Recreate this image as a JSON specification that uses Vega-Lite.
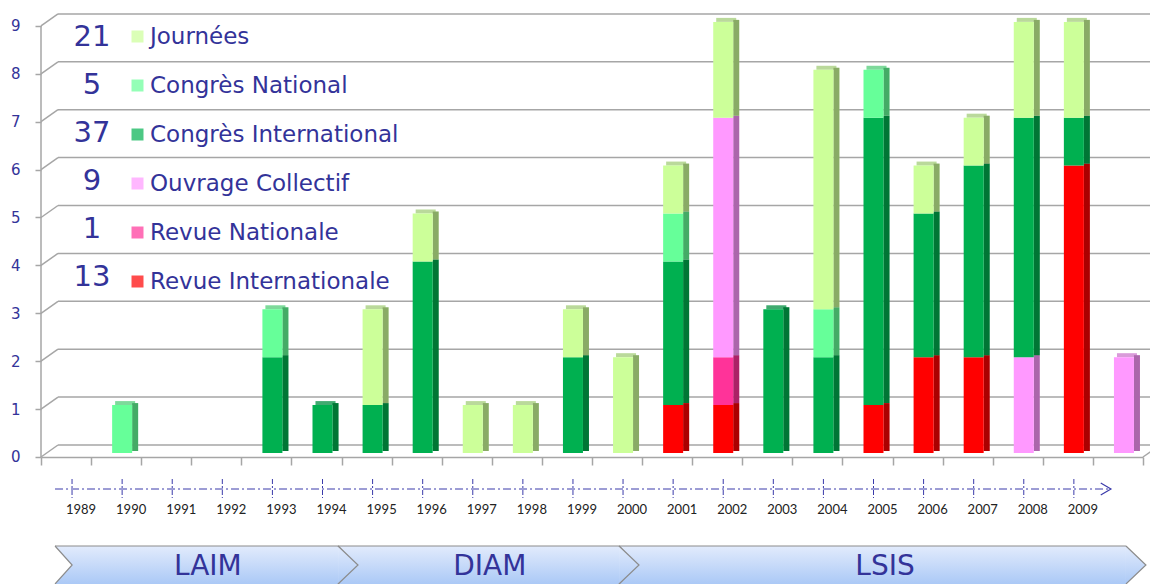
{
  "$schema": "https://vega.github.io/schema/vega-lite/v6.json",
  "width": 1102,
  "height": 584,
  "autosize": "none",
  "padding": {"left": 41, "top": 0, "right": 7, "bottom": 0},
  "background": "white",
  "config": {"view": {"stroke": null}, "font": "DejaVu Sans", "scale": {"continuousPadding": 0}},
  "datasets": {
    "pubs": [
      {"year": 1990, "type": "Congrès National", "n": 1, "rank": 5},
      {"year": 1993, "type": "Congrès International", "n": 2, "rank": 4},
      {"year": 1993, "type": "Congrès National", "n": 1, "rank": 5},
      {"year": 1994, "type": "Congrès International", "n": 1, "rank": 4},
      {"year": 1995, "type": "Congrès International", "n": 1, "rank": 4},
      {"year": 1995, "type": "Journées", "n": 2, "rank": 6},
      {"year": 1996, "type": "Congrès International", "n": 4, "rank": 4},
      {"year": 1996, "type": "Journées", "n": 1, "rank": 6},
      {"year": 1997, "type": "Journées", "n": 1, "rank": 6},
      {"year": 1998, "type": "Journées", "n": 1, "rank": 6},
      {"year": 1999, "type": "Congrès International", "n": 2, "rank": 4},
      {"year": 1999, "type": "Journées", "n": 1, "rank": 6},
      {"year": 2000, "type": "Journées", "n": 2, "rank": 6},
      {"year": 2001, "type": "Revue Internationale", "n": 1, "rank": 1},
      {"year": 2001, "type": "Congrès International", "n": 3, "rank": 4},
      {"year": 2001, "type": "Congrès National", "n": 1, "rank": 5},
      {"year": 2001, "type": "Journées", "n": 1, "rank": 6},
      {"year": 2002, "type": "Revue Internationale", "n": 1, "rank": 1},
      {"year": 2002, "type": "Revue Nationale", "n": 1, "rank": 2},
      {"year": 2002, "type": "Ouvrage Collectif", "n": 5, "rank": 3},
      {"year": 2002, "type": "Journées", "n": 2, "rank": 6},
      {"year": 2003, "type": "Congrès International", "n": 3, "rank": 4},
      {"year": 2004, "type": "Congrès International", "n": 2, "rank": 4},
      {"year": 2004, "type": "Congrès National", "n": 1, "rank": 5},
      {"year": 2004, "type": "Journées", "n": 5, "rank": 6},
      {"year": 2005, "type": "Revue Internationale", "n": 1, "rank": 1},
      {"year": 2005, "type": "Congrès International", "n": 6, "rank": 4},
      {"year": 2005, "type": "Congrès National", "n": 1, "rank": 5},
      {"year": 2006, "type": "Revue Internationale", "n": 2, "rank": 1},
      {"year": 2006, "type": "Congrès International", "n": 3, "rank": 4},
      {"year": 2006, "type": "Journées", "n": 1, "rank": 6},
      {"year": 2007, "type": "Revue Internationale", "n": 2, "rank": 1},
      {"year": 2007, "type": "Congrès International", "n": 4, "rank": 4},
      {"year": 2007, "type": "Journées", "n": 1, "rank": 6},
      {"year": 2008, "type": "Ouvrage Collectif", "n": 2, "rank": 3},
      {"year": 2008, "type": "Congrès International", "n": 5, "rank": 4},
      {"year": 2008, "type": "Journées", "n": 2, "rank": 6},
      {"year": 2009, "type": "Revue Internationale", "n": 6, "rank": 1},
      {"year": 2009, "type": "Congrès International", "n": 1, "rank": 4},
      {"year": 2009, "type": "Journées", "n": 2, "rank": 6},
      {"year": 2010, "type": "Ouvrage Collectif", "n": 2, "rank": 3}
    ],
    "grid": [{"v": 0}, {"v": 1}, {"v": 2}, {"v": 3}, {"v": 4}, {"v": 5}, {"v": 6}, {"v": 7}, {"v": 8}, {"v": 9}],
    "years": [{"year": 1989}, {"year": 1990}, {"year": 1991}, {"year": 1992}, {"year": 1993}, {"year": 1994}, {"year": 1995}, {"year": 1996}, {"year": 1997}, {"year": 1998}, {"year": 1999}, {"year": 2000}, {"year": 2001}, {"year": 2002}, {"year": 2003}, {"year": 2004}, {"year": 2005}, {"year": 2006}, {"year": 2007}, {"year": 2008}, {"year": 2009}],
    "eras": [
      {"era": "LAIM", "start": 1988.78, "end": 1994.43, "mid": 1991.83},
      {"era": "DIAM", "start": 1994.43, "end": 2000.04, "mid": 1997.46},
      {"era": "LSIS", "start": 2000.04, "end": 2010.16, "mid": 2005.35}
    ],
    "totals": [
      {"type": "Journées", "total": "21"},
      {"type": "Congrès National", "total": "5"},
      {"type": "Congrès International", "total": "37"},
      {"type": "Ouvrage Collectif", "total": "9"},
      {"type": "Revue Nationale", "total": "1"},
      {"type": "Revue Internationale", "total": "13"}
    ]
  },
  "layer": [
    {
      "data": {"name": "grid"},
      "mark": {"type": "rule", "xOffset": 17, "x2Offset": 17, "yOffset": -8, "y2Offset": -8, "color": "#a6a6a6", "strokeWidth": 1.5},
      "encoding": {
        "x": {"datum": 1988.5, "type": "quantitative",
          "scale": {"domain": [1988.5, 2010.5], "nice": false, "zero": false, "padding": 0},
          "axis": {"title": null, "orient": "bottom", "offset": -127, "values": [1988.5, 1989.5, 1990.5, 1991.5, 1992.5, 1993.5, 1994.5, 1995.5, 1996.5, 1997.5, 1998.5, 1999.5, 2000.5, 2001.5, 2002.5, 2003.5, 2004.5, 2005.5, 2006.5, 2007.5, 2008.5, 2009.5, 2010.5], "labels": false, "grid": false, "tickSize": 8, "tickColor": "#a6a6a6", "tickWidth": 1.5, "domainColor": "#a6a6a6", "domainWidth": 1.5}},
        "x2": {"datum": 2010.5},
        "y": {"field": "v", "type": "quantitative",
          "scale": {"domain": [-2.735, 9.457], "nice": false, "zero": false, "padding": 0},
          "axis": {"title": null, "values": [0, 1, 2, 3, 4, 5, 6, 7, 8, 9], "domain": false, "grid": false, "tickSize": 6, "tickColor": "#a6a6a6", "tickWidth": 1.5, "tickOffset": 4, "labelColor": "#333399", "labelFontSize": 15, "labelPadding": 15, "labelFont": "DejaVu Sans"}}
      }
    },
    {
      "data": {"name": "grid"},
      "mark": {"type": "rule", "yOffset": 4, "x2Offset": 17, "y2Offset": -8, "color": "#a6a6a6", "strokeWidth": 1.5},
      "encoding": {
        "x": {"datum": 1988.5, "type": "quantitative"},
        "x2": {"datum": 1988.5},
        "y": {"field": "v", "type": "quantitative"},
        "y2": {"field": "v"}
      }
    },
    {
      "data": {"name": "grid"},
      "transform": [{"filter": "datum.v == 0"}],
      "mark": {"type": "rule", "yOffset": 4, "x2Offset": 17, "y2Offset": -8, "color": "#a6a6a6", "strokeWidth": 1.5},
      "encoding": {
        "x": {"datum": 2010.5, "type": "quantitative"},
        "x2": {"datum": 2010.5},
        "y": {"field": "v", "type": "quantitative"},
        "y2": {"field": "v"}
      }
    },
    {
      "data": {"name": "grid"},
      "transform": [{"filter": "datum.v == 0"}],
      "mark": {"type": "rule", "yOffset": 4, "y2Offset": 4, "color": "#a6a6a6", "strokeWidth": 1.5},
      "encoding": {
        "x": {"datum": 1988.5, "type": "quantitative"},
        "y": {"datum": 0, "type": "quantitative"},
        "y2": {"datum": 9}
      }
    },
    {
      "data": {"name": "pubs"},
      "transform": [{"aggregate": [{"op": "sum", "field": "n", "as": "total"}, {"op": "argmax", "field": "rank", "as": "top"}], "groupby": ["year"]}],
      "mark": {"type": "tick", "orient": "horizontal", "size": 20, "thickness": 4, "xOffset": 9, "yOffset": -2},
      "encoding": {
        "x": {"field": "year", "type": "quantitative"},
        "y": {"field": "total", "type": "quantitative", "stack": null},
        "color": {"field": "top.type", "type": "nominal"}
      }
    },
    {
      "data": {"name": "pubs"},
      "transform": [{"aggregate": [{"op": "sum", "field": "n", "as": "total"}], "groupby": ["year"]}],
      "mark": {"type": "tick", "orient": "horizontal", "size": 20, "thickness": 4, "xOffset": 9, "yOffset": -2, "color": "black", "opacity": 0.15},
      "encoding": {
        "x": {"field": "year", "type": "quantitative"},
        "y": {"field": "total", "type": "quantitative", "stack": null}
      }
    },
    {
      "data": {"name": "pubs"},
      "mark": {"type": "bar", "width": 6, "xOffset": 19, "yOffset": -2, "y2Offset": -2},
      "encoding": {
        "x": {"field": "year", "type": "quantitative"},
        "y": {"field": "n", "type": "quantitative", "stack": "zero"},
        "order": {"field": "rank", "type": "quantitative", "sort": "ascending"},
        "color": {"field": "type", "type": "nominal"}
      }
    },
    {
      "data": {"name": "pubs"},
      "mark": {"type": "bar", "width": 6, "xOffset": 19, "yOffset": -2, "y2Offset": -2, "color": "black", "opacity": 0.33},
      "encoding": {
        "x": {"field": "year", "type": "quantitative"},
        "y": {"field": "n", "type": "quantitative", "stack": "zero"},
        "order": {"field": "rank", "type": "quantitative", "sort": "ascending"},
        "detail": {"field": "type"}
      }
    },
    {
      "data": {"name": "pubs"},
      "mark": {"type": "bar", "width": 20, "xOffset": 6},
      "encoding": {
        "x": {"field": "year", "type": "quantitative"},
        "y": {"field": "n", "type": "quantitative", "stack": "zero"},
        "order": {"field": "rank", "type": "quantitative", "sort": "ascending"},
        "color": {"field": "type", "type": "nominal",
          "scale": {"domain": ["Journées", "Congrès National", "Congrès International", "Ouvrage Collectif", "Revue Nationale", "Revue Internationale"],
                    "range": ["#ccff99", "#66ff99", "#00b050", "#ff99ff", "#ff3399", "#ff0000"]},
          "legend": {"orient": "none", "legendX": 85, "legendY": 25, "title": null, "direction": "vertical", "symbolType": "square", "symbolSize": 144, "symbolStrokeWidth": 0, "symbolOpacity": 1, "labelFontSize": 23, "labelColor": "#333399", "labelFont": "DejaVu Sans", "labelOffset": 1, "rowPadding": 25, "labelLimit": 400, "padding": 0}}
      }
    },
    {
      "data": {"name": "totals"},
      "mark": {"type": "point", "opacity": 0},
      "encoding": {
        "shape": {"field": "total", "type": "nominal", "sort": null,
          "legend": {"orient": "top-left", "offset": 22, "title": null, "direction": "vertical", "symbolSize": 0, "symbolOpacity": 0, "symbolStrokeWidth": 0, "labelFontSize": 29, "labelColor": "#333399", "labelFont": "DejaVu Sans", "labelAlign": "center", "labelOffset": 0, "rowPadding": 18, "padding": 0}}
      }
    },
    {
      "data": {"name": "grid"},
      "transform": [{"filter": "datum.v == 0"}],
      "mark": {"type": "rule", "color": "#3a3aaa", "strokeWidth": 1, "strokeDash": [8, 3, 2, 3]},
      "encoding": {
        "x": {"datum": 1988.78, "type": "quantitative"},
        "x2": {"datum": 2009.86},
        "y": {"datum": -0.752, "type": "quantitative"}
      }
    },
    {
      "data": {"name": "grid"},
      "transform": [{"filter": "datum.v == 0"}],
      "mark": {"type": "point", "shape": "M-1.7,-1L0,0L-1.7,1", "size": 144, "filled": false, "stroke": "#3a3aaa", "strokeWidth": 1.2, "opacity": 1},
      "encoding": {
        "x": {"datum": 2009.86, "type": "quantitative"},
        "y": {"datum": -0.752, "type": "quantitative"}
      }
    },
    {
      "data": {"name": "years"},
      "mark": {"type": "rule", "xOffset": 6, "color": "#3a3aaa", "strokeWidth": 1, "strokeDash": [5, 2, 2, 2]},
      "encoding": {
        "x": {"field": "year", "type": "quantitative"},
        "y": {"datum": -0.543, "type": "quantitative"},
        "y2": {"datum": -0.939}
      }
    },
    {
      "data": {"name": "years"},
      "mark": {"type": "text", "xOffset": 15, "font": "Lato", "fontSize": 13, "color": "#222222", "baseline": "middle", "align": "center"},
      "encoding": {
        "x": {"field": "year", "type": "quantitative"},
        "y": {"datum": -1.19, "type": "quantitative"},
        "text": {"field": "year", "type": "nominal"}
      }
    },
    {
      "data": {"name": "eras"},
      "mark": {"type": "bar", "fill": {"gradient": "linear", "x1": 0, "y1": 0, "x2": 0, "y2": 1, "stops": [{"offset": 0, "color": "#e2ebfc"}, {"offset": 1, "color": "#abc9f6"}]}},
      "encoding": {
        "x": {"field": "start", "type": "quantitative"},
        "x2": {"field": "end"},
        "y": {"datum": -1.942, "type": "quantitative"},
        "y2": {"datum": -2.735}
      }
    },
    {
      "data": {"name": "eras"},
      "mark": {"type": "rule", "color": "#8c8c8c", "strokeWidth": 1.2},
      "encoding": {
        "x": {"field": "start", "type": "quantitative"},
        "x2": {"field": "end"},
        "y": {"datum": -1.942, "type": "quantitative"}
      }
    },
    {
      "data": {"name": "eras"},
      "mark": {"type": "point", "shape": "M0,-1L0.9,0L0,1", "size": 1444, "filled": true, "fill": "white", "stroke": "#8c8c8c", "strokeWidth": 1.2, "opacity": 1},
      "encoding": {
        "x": {"field": "start", "type": "quantitative"},
        "y": {"datum": -2.338, "type": "quantitative"}
      }
    },
    {
      "data": {"name": "eras"},
      "mark": {"type": "point", "shape": "M0,-1L1.05,0L0,1", "size": 1444, "filled": true, "fill": {"gradient": "linear", "x1": 0, "y1": 0, "x2": 0, "y2": 1, "stops": [{"offset": 0, "color": "#e2ebfc"}, {"offset": 1, "color": "#abc9f6"}]}, "stroke": "#8c8c8c", "strokeWidth": 1.2, "opacity": 1},
      "encoding": {
        "x": {"field": "end", "type": "quantitative"},
        "y": {"datum": -2.338, "type": "quantitative"}
      }
    },
    {
      "data": {"name": "eras"},
      "mark": {"type": "text", "fontSize": 28, "color": "#333399", "baseline": "middle", "align": "center", "font": "DejaVu Sans"},
      "encoding": {
        "x": {"field": "mid", "type": "quantitative"},
        "y": {"datum": -2.38, "type": "quantitative"},
        "text": {"field": "era", "type": "nominal"}
      }
    }
  ]
}
